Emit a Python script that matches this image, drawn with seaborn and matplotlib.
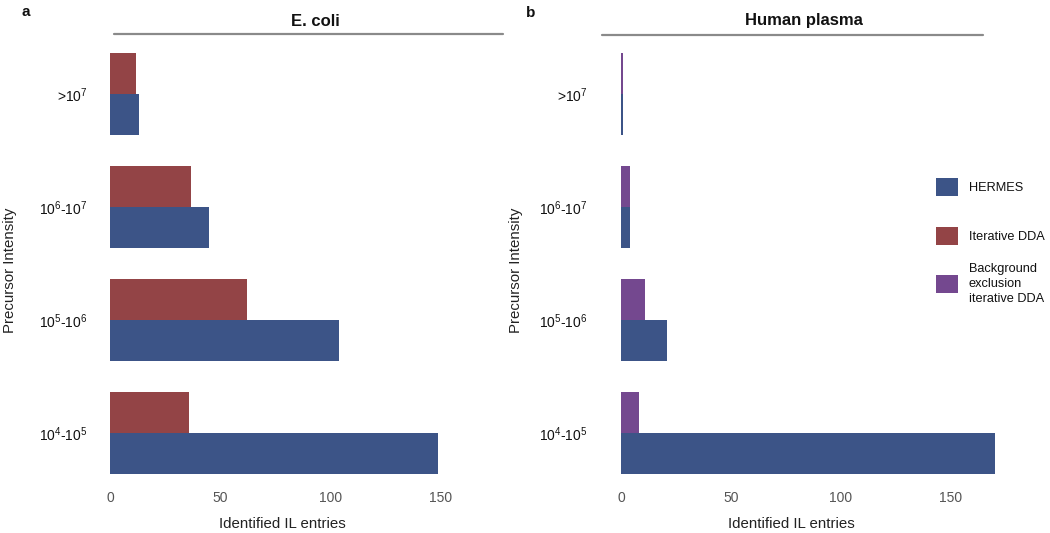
import matplotlib
matplotlib.use("Agg")
import numpy as np
import pandas as pd
import matplotlib.pyplot as plt
import seaborn as sns
from matplotlib.patches import Patch
from matplotlib.lines import Line2D

# ---------------- data ----------------
intensity_bins = [r">$10^{7}$", r"$10^{6}$-$10^{7}$", r"$10^{5}$-$10^{6}$", r"$10^{4}$-$10^{5}$"]
ecoli_hermes = [13, 45, 104, 149]
ecoli_iterative = [12, 37, 62, 36]
plasma_hermes = [1, 4, 21, 170]
plasma_background = [1, 4, 11, 8]
methods = ["HERMES", "Iterative DDA", "Background exclusion iterative DDA"]
legend_labels = ["HERMES", "Iterative DDA", "Background\nexclusion\niterative DDA"]
x_ticks = [0, 50, 100, 150]
panel_titles = ["E. coli", "Human plasma"]
panel_letters = ["a", "b"]
x_label = "Identified IL entries"
y_label = "Precursor Intensity"

colors = {methods[0]: "#3c5487", methods[1]: "#934446", methods[2]: "#74488f"}

df_a = pd.DataFrame({
    "bin": intensity_bins * 2,
    "count": ecoli_iterative + ecoli_hermes,
    "method": [methods[1]] * 4 + [methods[0]] * 4,
})
df_b = pd.DataFrame({
    "bin": intensity_bins * 2,
    "count": plasma_background + plasma_hermes,
    "method": [methods[2]] * 4 + [methods[0]] * 4,
})

# ---------------- style ----------------
sns.set_theme(style="white")
plt.rcParams["font.family"] = ["Liberation Sans", "DejaVu Sans"]
plt.rcParams["mathtext.fontset"] = "custom"
plt.rcParams["mathtext.rm"] = "Liberation Sans"
plt.rcParams["mathtext.it"] = "Liberation Sans:italic"
plt.rcParams["mathtext.bf"] = "Liberation Sans:bold"
plt.rcParams["mathtext.default"] = "regular"

W, H = 1050, 533
fig = plt.figure(figsize=(W / 100, H / 100), dpi=100)
fig.patch.set_facecolor("white")

ax_top_px, ax_bot_px = 37.5, 489.5
ax_h = (ax_bot_px - ax_top_px) / H
ax_y0 = (H - ax_bot_px) / H
ax_a = fig.add_axes([110 / W, ax_y0, 392 / W, ax_h])
ax_b = fig.add_axes([621 / W, ax_y0, 378 / W, ax_h])

sns.barplot(data=df_a, x="count", y="bin", hue="method",
            hue_order=[methods[1], methods[0]], order=intensity_bins,
            palette=colors, orient="h", width=0.73, saturation=1,
            legend=False, ax=ax_a, linewidth=0)
sns.barplot(data=df_b, x="count", y="bin", hue="method",
            hue_order=[methods[2], methods[0]], order=intensity_bins,
            palette=colors, orient="h", width=0.73, saturation=1,
            legend=False, ax=ax_b, linewidth=0)

for ax, xmax, ypad, ylab_x, xlab_x in [(ax_a, 178, 16, -0.237, 0.439),
                                        (ax_b, 172, 24, -0.259, 0.45)]:
    ax.set_xlim(0, xmax)
    ax.set_ylim(3.5, -0.5)
    for s in ax.spines.values():
        s.set_visible(False)
    ax.set_xticks(x_ticks)
    ax.tick_params(axis="x", length=0, pad=1, labelsize=10, labelcolor="#555555")
    ax.tick_params(axis="y", length=0, pad=ypad, labelsize=10, labelcolor="#111111")
    ax.set_xlabel(x_label, fontsize=10.8, color="#222222")
    ax.set_ylabel(y_label, fontsize=10.8, color="#222222")
    ax.xaxis.set_label_coords(xlab_x, -0.061)
    ax.yaxis.set_label_coords(ylab_x, 0.486)
    ax.grid(False)

# titles with rules
fig.text(315 / W, 1 - 21 / H, panel_titles[0], ha="center", va="center",
         fontsize=12, fontweight="bold", color="#111111")
fig.text(804 / W, 1 - 21 / H, panel_titles[1], ha="center", va="center",
         fontsize=12, fontweight="bold", color="#111111")
fig.add_artist(Line2D([114 / W, 503 / W], [1 - 34 / H] * 2, transform=fig.transFigure,
                      color="#8a8a8a", lw=1.6))
fig.add_artist(Line2D([602 / W, 983 / W], [1 - 35 / H] * 2, transform=fig.transFigure,
                      color="#8a8a8a", lw=1.6))
fig.text(26 / W, 1 - 12 / H, panel_letters[0], ha="center", va="center",
         fontsize=11, fontweight="bold", color="#111111")
fig.text(531 / W, 1 - 13 / H, panel_letters[1], ha="center", va="center",
         fontsize=11, fontweight="bold", color="#111111")

# legend entries
legend_centers = [187, 236, 284]
for m, lab, yc in zip(methods, legend_labels, legend_centers):
    leg = fig.legend(handles=[Patch(facecolor=colors[m], edgecolor="none", label=lab)],
                     loc="center left", bbox_to_anchor=(936 / W, 1 - yc / H),
                     bbox_transform=fig.transFigure, frameon=False, fontsize=9.2,
                     handlelength=1.76, handleheight=1.76, handletextpad=0.8,
                     borderpad=0, borderaxespad=0)
    for t in leg.get_texts():
        t.set_linespacing(1.35)
        t.set_color("#111111")

fig.savefig("out.png", dpi=100)
